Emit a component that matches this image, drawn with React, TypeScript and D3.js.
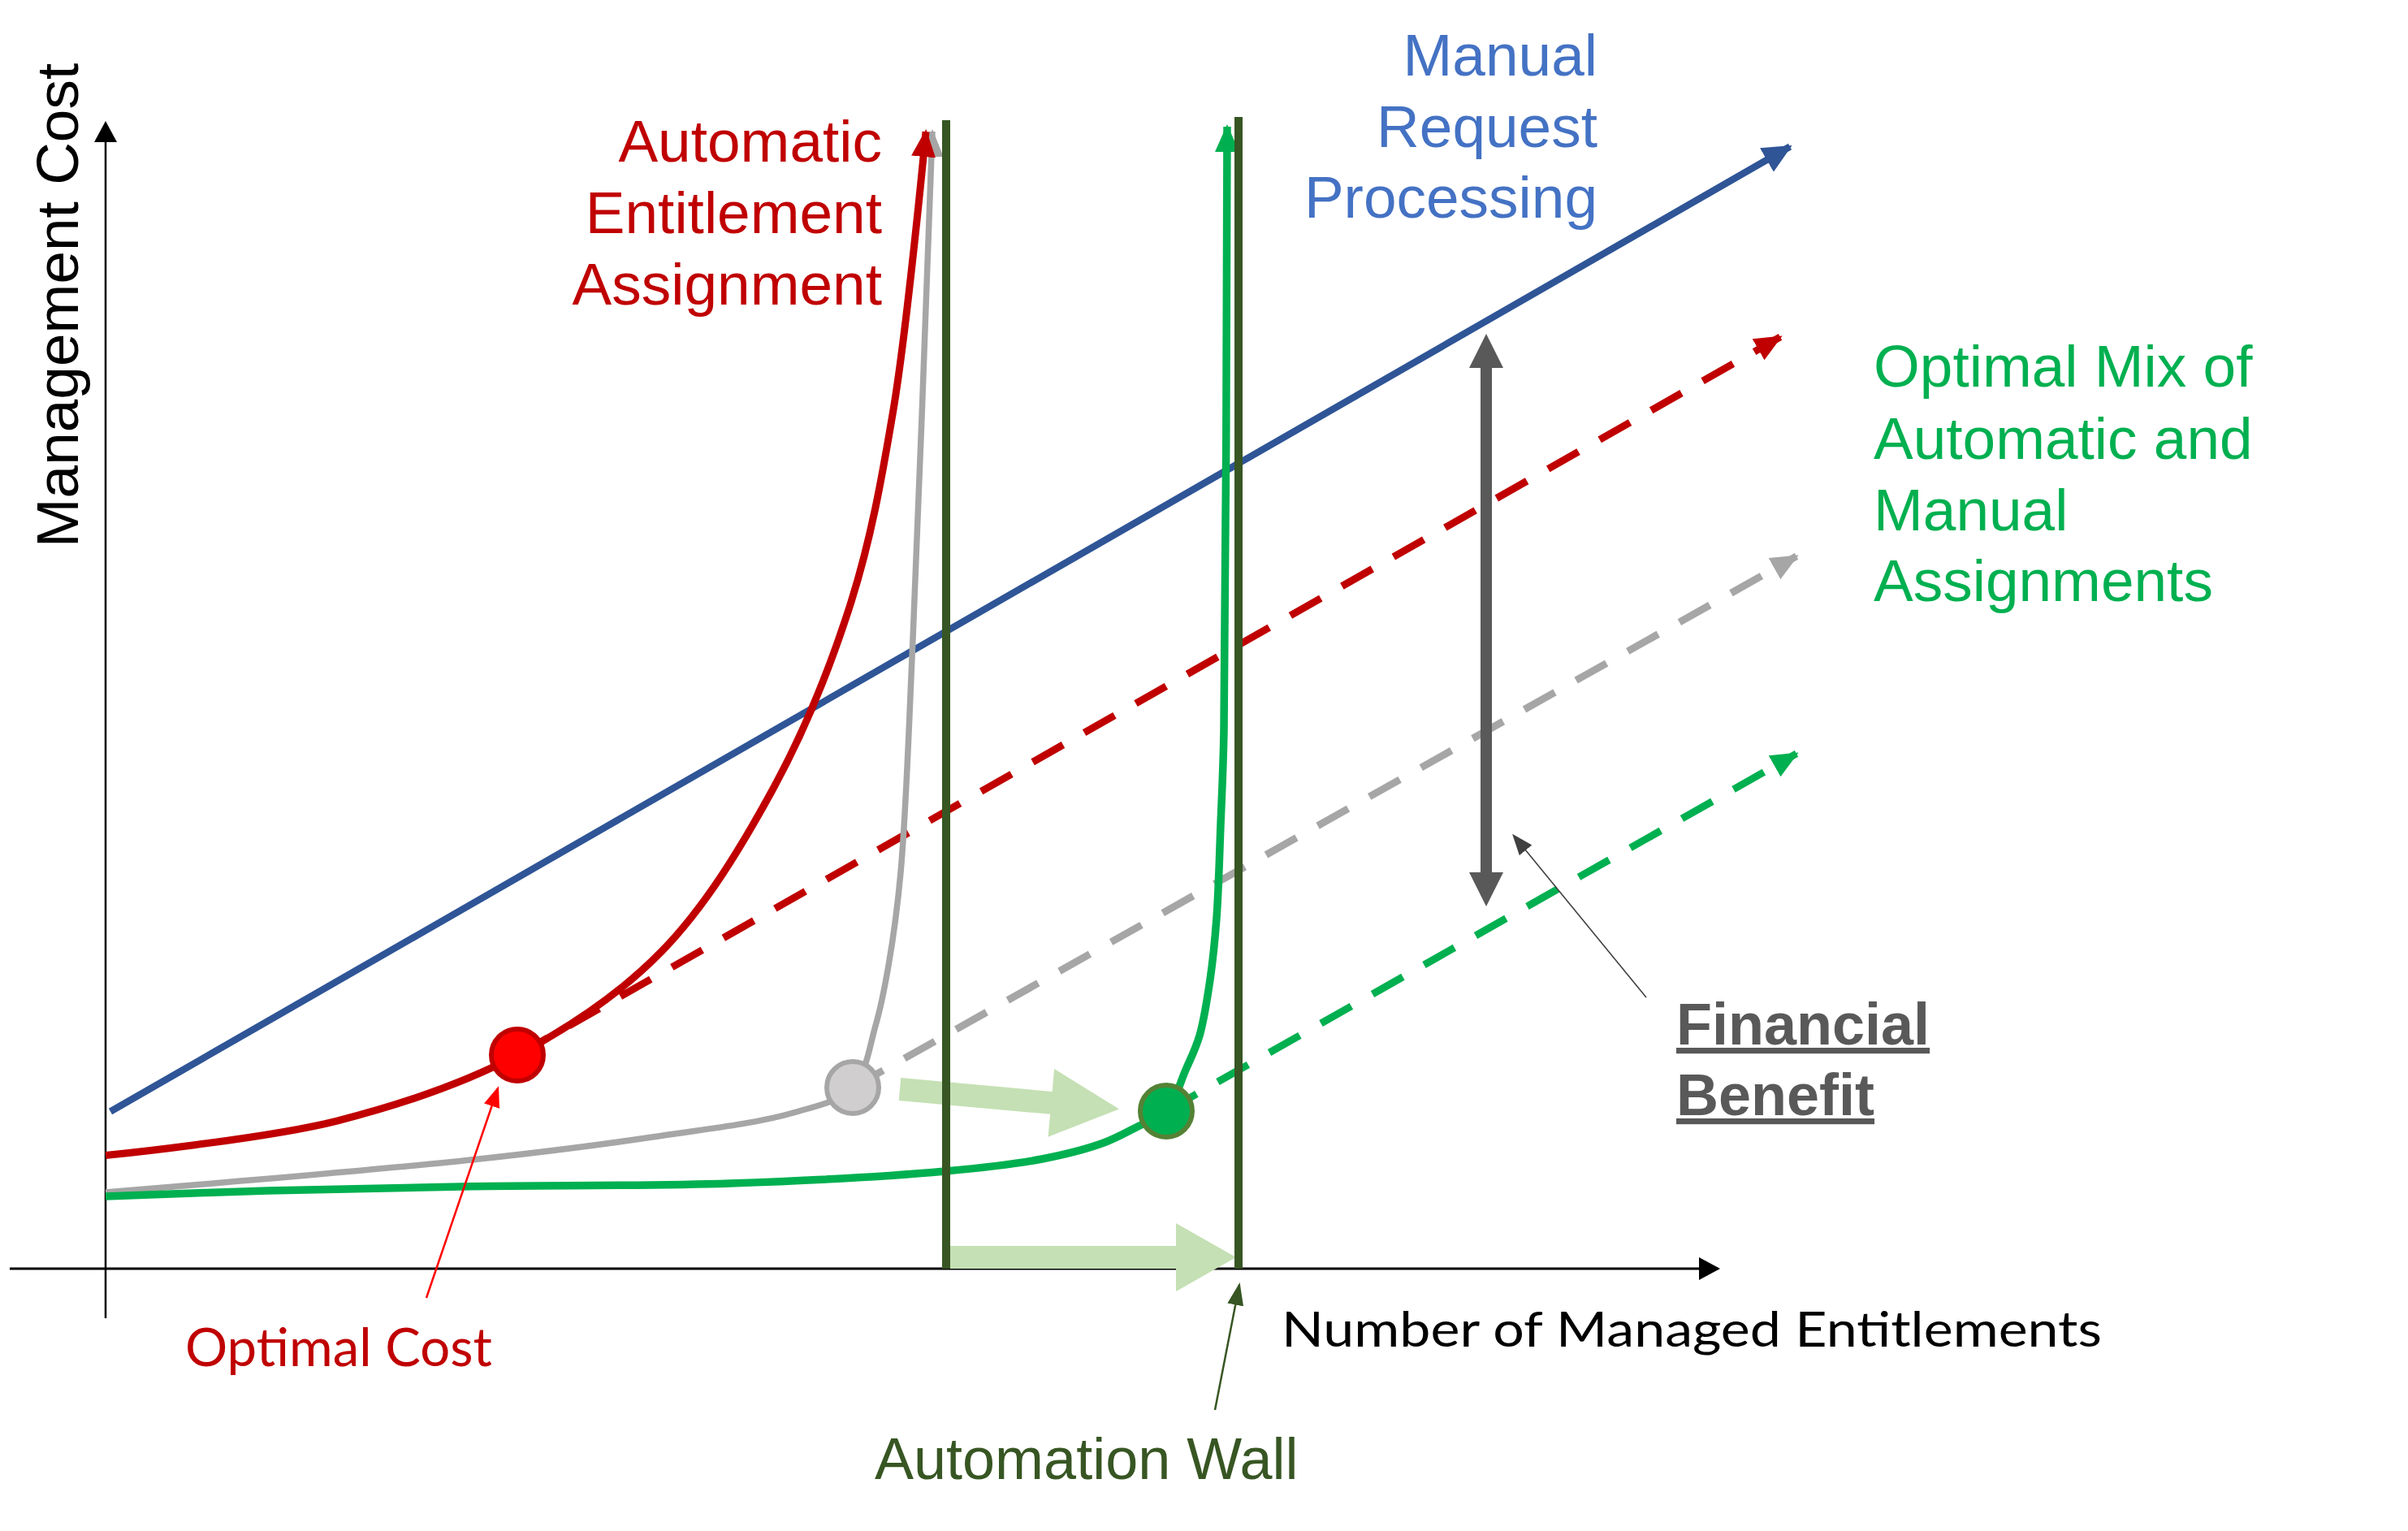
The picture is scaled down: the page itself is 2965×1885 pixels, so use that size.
import React from 'react';
import * as d3 from 'd3';

const W = 2965;
const H = 1885;

// ---- data (abstract units: x = number of managed entitlements, y = management cost) ----
const manualLine: [number, number][] = [[0.3, 12.9], [103.7, 92.1]];
const autoCurve: [number, number][] = [
  [0, 9.3], [14.25, 12.13], [25.35, 17.53], [34.2, 26], [41.1, 39.4], [45.9, 54.73], [48.5, 70.5], [50.5, 93.33],
];
const prevCurve: [number, number][] = [
  [0, 6.27], [22.5, 8.93], [33.65, 10.8], [42.35, 12.8], [46, 14.87], [47.4, 19.93], [48.2, 24.87],
  [48.95, 32.53], [49.7, 51.67], [50.9, 93.33],
];
const mixCurve: [number, number][] = [
  [0, 5.93], [10, 6.4], [22.5, 6.75], [38.45, 7.0], [51.7, 8.0], [57.65, 9.0], [61.45, 10.33],
  [63.55, 11.67], [65.3, 12.93], [66.5, 16.33], [67.35, 19.13], [68, 23.73], [68.4, 28.8],
  [68.65, 36.47], [68.85, 44.13], [69.05, 93.73],
];
const autoTrend: [number, number][] = [[25.35, 17.53], [103.1, 76.47]];
const prevTrend: [number, number][] = [[46, 14.87], [104.1, 58.47]];
const mixTrend: [number, number][] = [[65.3, 12.93], [104.1, 42.27]];
const optimalX = [25.35, 46, 65.3];
const optimalY = [17.53, 14.87, 12.93];
const wallX = [51.75, 69.75];
const wallTop = [94.27, 94.53];
const benefitX = 85;
const benefitRange = [29.73, 76.73];
const shiftUpper: [number, number][] = [[48.9, 14.73], [62.4, 13.1]];
const shiftLower: [number, number][] = [[52, 0.93], [69.6, 0.93]];
const xAxisExtent = [-5.9, 99.25];
const yAxisExtent = [-4.07, 94.0];
const noteOptimal: [number, number][] = [[19.75, -2.4], [24.15, 14.8]];
const noteWall: [number, number][] = [[68.3, -11.6], [69.8, -1.33]];
const noteBenefit: [number, number][] = [[94.85, 22.27], [86.7, 35.53]];

const x = d3.scaleLinear().domain([0, 100]).range([130, 2130]);
const y = d3.scaleLinear().domain([0, 100]).range([1562, 62]);

const curveGen = d3.line<[number, number]>().x(d => x(d[0])).y(d => y(d[1])).curve(d3.curveCatmullRom.alpha(0.5));
const straight = d3.line<[number, number]>().x(d => x(d[0])).y(d => y(d[1]));

const ARIAL = '"Liberation Sans", Arial, sans-serif';
const CAL = 'Lato, "Open Sans", sans-serif';

function blockArrow(p0: [number, number], p1: [number, number], shaftW: number, headW: number, headL: number) {
  const [x0, y0] = [x(p0[0]), y(p0[1])];
  const [x1, y1] = [x(p1[0]), y(p1[1])];
  const dx = x1 - x0, dy = y1 - y0;
  const len = Math.hypot(dx, dy);
  const ux = dx / len, uy = dy / len;
  const nx = -uy, ny = ux;
  const bx = x1 - ux * headL, by = y1 - uy * headL;
  const pts = [
    [x0 + nx * shaftW / 2, y0 + ny * shaftW / 2],
    [bx + nx * shaftW / 2, by + ny * shaftW / 2],
    [bx + nx * headW / 2, by + ny * headW / 2],
    [x1, y1],
    [bx - nx * headW / 2, by - ny * headW / 2],
    [bx - nx * shaftW / 2, by - ny * shaftW / 2],
    [x0 - nx * shaftW / 2, y0 - ny * shaftW / 2],
  ];
  return pts.map(p => p.join(',')).join(' ');
}

function doubleArrow(xv: number, lo: number, hi: number, shaftW: number, headW: number, headL: number) {
  const cx = x(xv);
  const yTop = y(hi), yBot = y(lo);
  const pts = [
    [cx, yTop], [cx + headW / 2, yTop + headL], [cx + shaftW / 2, yTop + headL],
    [cx + shaftW / 2, yBot - headL], [cx + headW / 2, yBot - headL], [cx, yBot],
    [cx - headW / 2, yBot - headL], [cx - shaftW / 2, yBot - headL],
    [cx - shaftW / 2, yTop + headL], [cx - headW / 2, yTop + headL],
  ];
  return pts.map(p => p.join(',')).join(' ');
}

const Marker = ({ id, color, len, wid }: { id: string; color: string; len: number; wid: number }) => (
  <marker id={id} markerUnits="userSpaceOnUse" markerWidth={len} markerHeight={wid}
    refX={len - 3} refY={wid / 2} orient="auto" viewBox={`0 0 ${len} ${wid}`}>
    <path d={`M0,0 L${len},${wid / 2} L0,${wid} Z`} fill={color} />
  </marker>
);

export default function App() {
  const dash = '43 30';
  return (
    <svg width={W} height={H} style={{ position: 'absolute', left: 0, top: 0, background: '#fff' }}>
      <defs>
        <Marker id="mBlack" color="#000" len={26} wid={28} />
        <Marker id="mBlue" color="#2F5597" len={36} wid={34} />
        <Marker id="mRed" color="#C00000" len={34} wid={30} />
        <Marker id="mGrey" color="#A6A6A6" len={34} wid={30} />
        <Marker id="mGreen" color="#00B050" len={34} wid={30} />
        <Marker id="mRedThin" color="#FF0000" len={26} wid={20} />
        <Marker id="mWallThin" color="#375623" len={28} wid={20} />
        <Marker id="mGreyThin" color="#404040" len={26} wid={20} />
      </defs>

      {/* axes */}
      <line x1={x(xAxisExtent[0])} y1={y(0)} x2={x(xAxisExtent[1])} y2={y(0)} stroke="#000" strokeWidth={3} markerEnd="url(#mBlack)" />
      <line x1={x(0)} y1={y(yAxisExtent[0])} x2={x(0)} y2={y(yAxisExtent[1])} stroke="#000" strokeWidth={2.5} markerEnd="url(#mBlack)" />

      {/* light green shift arrows */}
      <polygon points={blockArrow(shiftUpper[0], shiftUpper[1], 28, 84, 84)} fill="#C5E0B4" />
      <polygon points={blockArrow(shiftLower[0], shiftLower[1], 28, 84, 74)} fill="#C5E0B4" />

      {/* manual line */}
      <path d={straight(manualLine)!} fill="none" stroke="#2F5597" strokeWidth={8.5} markerEnd="url(#mBlue)" />

      {/* trend dashed lines */}
      <path d={straight(autoTrend)!} fill="none" stroke="#C00000" strokeWidth={9} strokeDasharray={dash} markerEnd="url(#mRed)" />
      <path d={straight(prevTrend)!} fill="none" stroke="#A6A6A6" strokeWidth={9} strokeDasharray={dash} markerEnd="url(#mGrey)" />
      <path d={straight(mixTrend)!} fill="none" stroke="#00B050" strokeWidth={9} strokeDasharray={dash} markerEnd="url(#mGreen)" />

      {/* curves */}
      <path d={curveGen(prevCurve)!} fill="none" stroke="#A6A6A6" strokeWidth={7.5} markerEnd="url(#mGrey)" />
      <path d={curveGen(autoCurve)!} fill="none" stroke="#C00000" strokeWidth={9} markerEnd="url(#mRed)" />
      <path d={curveGen(mixCurve)!} fill="none" stroke="#00B050" strokeWidth={9.5} markerEnd="url(#mGreen)" />

      {/* automation walls */}
      {wallX.map((w, i) => (
        <line key={i} x1={x(w)} y1={y(0)} x2={x(w)} y2={y(wallTop[i])} stroke="#375623" strokeWidth={10} />
      ))}

      {/* optimal points */}
      <circle cx={x(optimalX[0])} cy={y(optimalY[0])} r={32} fill="#FF0000" stroke="#C00000" strokeWidth={6} />
      <circle cx={x(optimalX[1])} cy={y(optimalY[1])} r={32} fill="#D0CECE" stroke="#A6A6A6" strokeWidth={6} />
      <circle cx={x(optimalX[2])} cy={y(optimalY[2])} r={32} fill="#00B050" stroke="#548235" strokeWidth={6} />

      {/* financial benefit double arrow */}
      <polygon points={doubleArrow(benefitX, benefitRange[0], benefitRange[1], 14, 42, 42)} fill="#595959" />

      {/* annotation arrows */}
      <path d={straight(noteOptimal)!} stroke="#FF0000" strokeWidth={2.5} fill="none" markerEnd="url(#mRedThin)" />
      <path d={straight(noteWall)!} stroke="#375623" strokeWidth={2.5} fill="none" markerEnd="url(#mWallThin)" />
      <path d={straight(noteBenefit)!} stroke="#404040" strokeWidth={1.6} fill="none" markerEnd="url(#mGreyThin)" />

      {/* texts */}
      <text transform="translate(96,376) rotate(-90)" textAnchor="middle" fontFamily={ARIAL} fontSize={73} fill="#000">Management Cost</text>

      <g fontFamily={ARIAL} fontSize={73} fill="#C00000" textAnchor="end">
        <text x={1086} y={199}>Automatic</text>
        <text x={1086} y={287}>Entitlement</text>
        <text x={1086} y={375}>Assignment</text>
      </g>
      <g fontFamily={ARIAL} fontSize={73} fill="#4472C4" textAnchor="end">
        <text x={1967} y={93}>Manual</text>
        <text x={1967} y={181}>Request</text>
        <text x={1967} y={268}>Processing</text>
      </g>
      <g fontFamily={ARIAL} fontSize={73} fill="#00B050">
        <text x={2307} y={476}>Optimal Mix of</text>
        <text x={2307} y={565}>Automatic and</text>
        <text x={2307} y={653}>Manual</text>
        <text x={2307} y={740}>Assignments</text>
      </g>
      <g fontFamily={ARIAL} fontSize={72} fontWeight="bold" fill="#595959" textDecoration="underline">
        <text x={2064} y={1286}>Financial</text>
        <text x={2064} y={1373}>Benefit</text>
      </g>
      <text x={228} y={1682} fontFamily={CAL} fontSize={66} fill="#C00000" textLength={378} lengthAdjust="spacingAndGlyphs">Optimal Cost</text>
      <text x={1077} y={1821} fontFamily={ARIAL} fontSize={72} fill="#375623">Automation Wall</text>
      <text x={1578} y={1658} fontFamily={CAL} fontSize={60} fill="#000" textLength={1010} lengthAdjust="spacingAndGlyphs">Number of Managed Entitlements</text>
    </svg>
  );
}
